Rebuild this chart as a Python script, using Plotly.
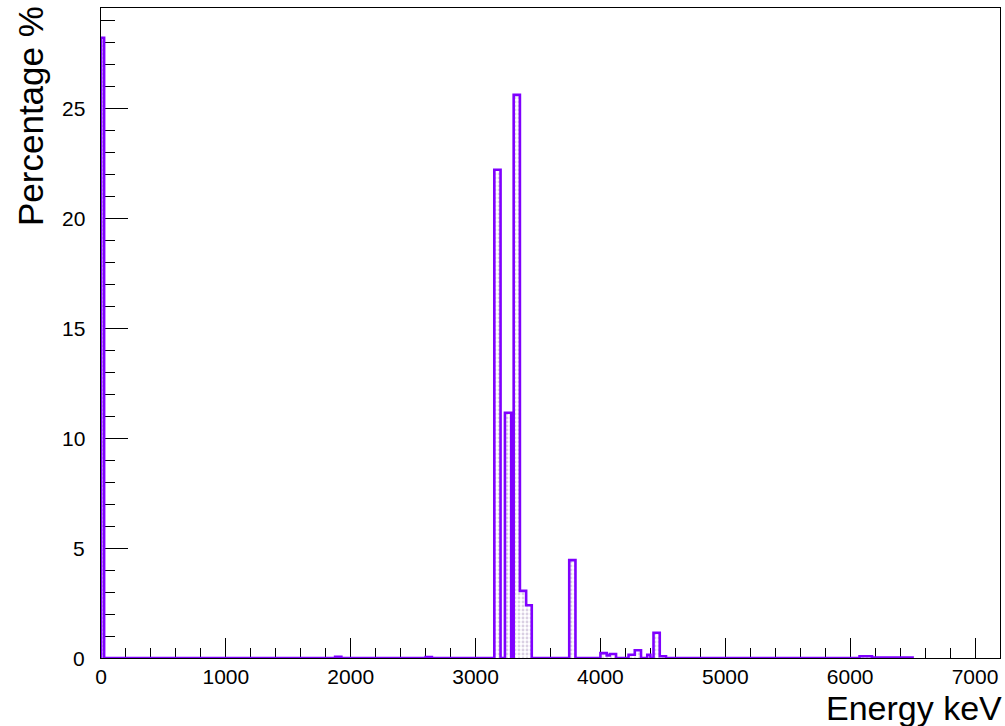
import numpy as np
import plotly.graph_objects as go

# Histogram contents (non-empty bins), energy in keV, content in percent
bin_start_keV = [0, 1875, 2600, 3150, 3235, 3305, 3355, 3405, 3750, 4000, 4050, 4075,
                 4225, 4275, 4375, 4425, 4475, 6075, 6175]
bin_stop_keV = [25, 1925, 2650, 3200, 3285, 3355, 3405, 3450, 3800, 4050, 4075, 4125,
                4275, 4325, 4400, 4475, 4525, 6175, 6500]
percent = [28.2, 0.05, 0.04, 22.2, 11.15, 25.6, 3.05, 2.4, 4.45, 0.22, 0.12, 0.18,
           0.15, 0.35, 0.15, 1.15, 0.08, 0.08, 0.02]

hist_min, hist_max = 0, 6500
x_ticks = [0, 1000, 2000, 3000, 4000, 5000, 6000, 7000]
y_ticks = [0, 5, 10, 15, 20, 25]

# build step outline (ROOT-like histogram contour)
segs = []
cur = hist_min
for a, b, v in zip(bin_start_keV, bin_stop_keV, percent):
    if a > cur:
        segs.append((cur, a, 0.0))
    segs.append((a, b, v))
    cur = b
if cur < hist_max:
    segs.append((cur, hist_max, 0.0))

xs = [hist_min] + [s[0] for s in segs] + [segs[-1][1]]
ys = [0.0] + [s[2] for s in segs] + [0.0]

purple = "#7f00ff"

fig = go.Figure()
fig.add_trace(go.Scatter(
    x=xs, y=ys, mode="lines", line=dict(color=purple, width=2.6, shape="hv"),
    fill="tozeroy",
    fillcolor="rgba(0,0,0,0)",
    fillpattern=dict(shape=".", fgcolor="#b6a2c8", bgcolor="white", size=4, solidity=0.4),
    hoverinfo="skip", showlegend=False,
))

font_family = "Liberation Sans, Arial, Helvetica, sans-serif"

annotations = [
    dict(text="Percentage %", textangle=-90, xref="paper", yref="paper",
         x=(31 - 101) / 899, y=1 + (8 - 4) / 650, xanchor="center", yanchor="top",
         showarrow=False, font=dict(size=35, family=font_family, color="black")),
    dict(text="Energy keV", xref="paper", yref="paper",
         x=1 + 4 / 899, y=(658 - 708) / 650, xanchor="right", yanchor="middle",
         showarrow=False, font=dict(size=34, family=font_family, color="black")),
]
# y tick labels placed like ROOT (further from the axis)
for v in y_ticks:
    annotations.append(dict(
        text=str(v), xref="paper", yref="y", x=-14 / 899, y=v,
        xanchor="right", yanchor="middle", showarrow=False,
        font=dict(size=21, family=font_family, color="black"),
    ))

fig.update_layout(
    width=1005, height=726,
    margin=dict(l=101, r=5, t=8, b=68),
    paper_bgcolor="white", plot_bgcolor="white",
    font=dict(family=font_family, color="black", size=21),
    xaxis=dict(
        range=[0, 7200], showgrid=False, zeroline=False,
        showline=True, mirror=True, linecolor="black", linewidth=1,
        ticks="inside", ticklen=20, tickwidth=1, tickcolor="black",
        tickvals=x_ticks, ticktext=[str(v) for v in x_ticks],
        minor=dict(ticks="inside", ticklen=10, dtick=200, tickcolor="black", showgrid=False),
        layer="below traces",
        tickfont=dict(size=21),
    ),
    yaxis=dict(
        range=[0, 29.55], showgrid=False, zeroline=False,
        showline=True, mirror=True, linecolor="black", linewidth=1,
        ticks="inside", ticklen=27, tickwidth=1, tickcolor="black",
        tickvals=y_ticks, showticklabels=False,
        minor=dict(ticks="inside", ticklen=14, dtick=1, tickcolor="black", showgrid=False),
        layer="below traces",
    ),
    annotations=annotations,
)

fig.write_html("out.html")
